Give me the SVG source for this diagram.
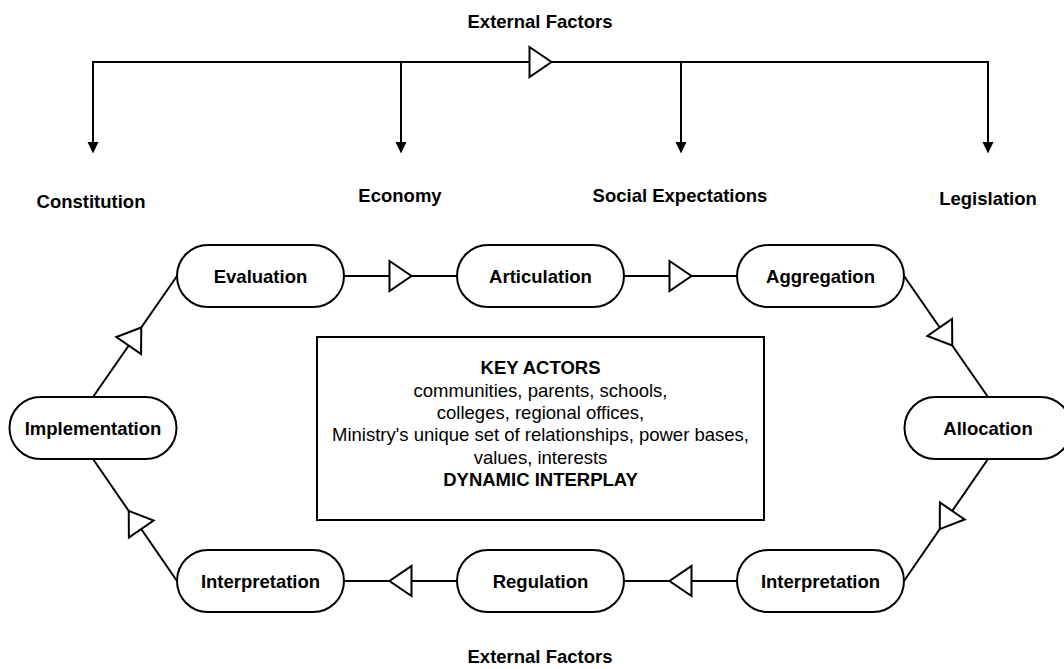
<svg xmlns="http://www.w3.org/2000/svg" width="1064" height="669" viewBox="0 0 1064 669">
  <style>
    .pill { fill: #ffffff; stroke: #000000; stroke-width: 2; }
    .box { fill: #ffffff; stroke: #000000; stroke-width: 2; }
    .edge { fill: none; stroke: #000000; stroke-width: 2; }
    .flow { marker-mid: url(#openTri); }
    .drop { marker-end: url(#solidTri); }
    text { font-family: "Liberation Sans", Arial, Helvetica, sans-serif; font-size: 18.5px; fill: #000000; text-anchor: middle; }
    .b { font-weight: bold; }
  </style>
  <defs>
    <!-- hollow triangle sitting centred on the middle vertex of a connector -->
    <marker id="openTri" markerUnits="userSpaceOnUse" markerWidth="26" markerHeight="34" viewBox="-2 -2 26 34" refX="11" refY="15" orient="auto">
      <path d="M0,0 L22,15 L0,30 Z" fill="#ffffff" stroke="#000000" stroke-width="2" stroke-linejoin="miter"/>
    </marker>
    <!-- small solid arrowhead for the factor drops -->
    <marker id="solidTri" markerUnits="userSpaceOnUse" markerWidth="12" markerHeight="12" viewBox="0 0 12 12" refX="0" refY="6" orient="auto">
      <path d="M0,0.5 L11.5,6 L0,11.5 Z" fill="#000000"/>
    </marker>
  </defs>
  <rect width="1064" height="669" fill="#ffffff"/>

  <!-- connectors -->
  <g id="connectors">
    <!-- external factors bus -->
    <polyline class="edge flow" points="93,62 540.5,62 988,62"/>
    <line class="edge drop" x1="93" y1="61" x2="93" y2="142"/>
    <line class="edge drop" x1="401" y1="62" x2="401" y2="142"/>
    <line class="edge drop" x1="681" y1="62" x2="681" y2="142"/>
    <line class="edge drop" x1="988" y1="61" x2="988" y2="142"/>

    <!-- policy cycle -->
    <polyline class="edge flow" points="344,276 400.5,276 457,276"/>
    <polyline class="edge flow" points="624,276 680.5,276 737,276"/>
    <polyline class="edge flow" points="904,276 946,336.5 988,397"/>
    <polyline class="edge flow" points="988,459 946,520 904,581"/>
    <polyline class="edge flow" points="737,581 680.5,581 624,581"/>
    <polyline class="edge flow" points="457,581 400.5,581 344,581"/>
    <polyline class="edge flow" points="177,581 135,520 93,459"/>
    <polyline class="edge flow" points="93,397 135,336.5 177,276"/>
  </g>

  <!-- factor labels -->
  <g id="external-factors-top"><text class="b" x="540" y="28">External Factors</text></g>
  <g id="constitution"><text class="b" x="91" y="208">Constitution</text></g>
  <g id="economy"><text class="b" x="400" y="202">Economy</text></g>
  <g id="social-expectations"><text class="b" x="680" y="202">Social Expectations</text></g>
  <g id="legislation"><text class="b" x="988" y="205">Legislation</text></g>
  <g id="external-factors-bottom"><text class="b" x="540" y="663">External Factors</text></g>

  <!-- cycle stages -->
  <g id="evaluation">
    <rect class="pill" x="177" y="245" width="167" height="62" rx="31" ry="31"/>
    <text class="b" x="260.5" y="282.5">Evaluation</text>
  </g>
  <g id="articulation">
    <rect class="pill" x="457" y="245" width="167" height="62" rx="31" ry="31"/>
    <text class="b" x="540.5" y="282.5">Articulation</text>
  </g>
  <g id="aggregation">
    <rect class="pill" x="737" y="245" width="167" height="62" rx="31" ry="31"/>
    <text class="b" x="820.5" y="282.5">Aggregation</text>
  </g>
  <g id="implementation">
    <rect class="pill" x="9.5" y="397" width="167" height="62" rx="31" ry="31"/>
    <text class="b" x="93" y="434.5">Implementation</text>
  </g>
  <g id="allocation">
    <rect class="pill" x="904.5" y="397" width="167" height="62" rx="31" ry="31"/>
    <text class="b" x="988" y="434.5">Allocation</text>
  </g>
  <g id="interpretation-left">
    <rect class="pill" x="177" y="550" width="167" height="62" rx="31" ry="31"/>
    <text class="b" x="260.5" y="587.5">Interpretation</text>
  </g>
  <g id="regulation">
    <rect class="pill" x="457" y="550" width="167" height="62" rx="31" ry="31"/>
    <text class="b" x="540.5" y="587.5">Regulation</text>
  </g>
  <g id="interpretation-right">
    <rect class="pill" x="737" y="550" width="167" height="62" rx="31" ry="31"/>
    <text class="b" x="820.5" y="587.5">Interpretation</text>
  </g>

  <!-- central actors panel -->
  <g id="key-actors">
    <rect class="box" x="317" y="337" width="447" height="183"/>
    <text class="b" x="540.5" y="374">KEY ACTORS</text>
    <text x="540.5" y="396.5">communities, parents, schools,</text>
    <text x="540.5" y="419">colleges, regional offices,</text>
    <text x="540.5" y="441">Ministry's unique set of relationships, power bases,</text>
    <text x="540.5" y="463.5">values, interests</text>
    <text class="b" x="540.5" y="486">DYNAMIC INTERPLAY</text>
  </g>
</svg>
